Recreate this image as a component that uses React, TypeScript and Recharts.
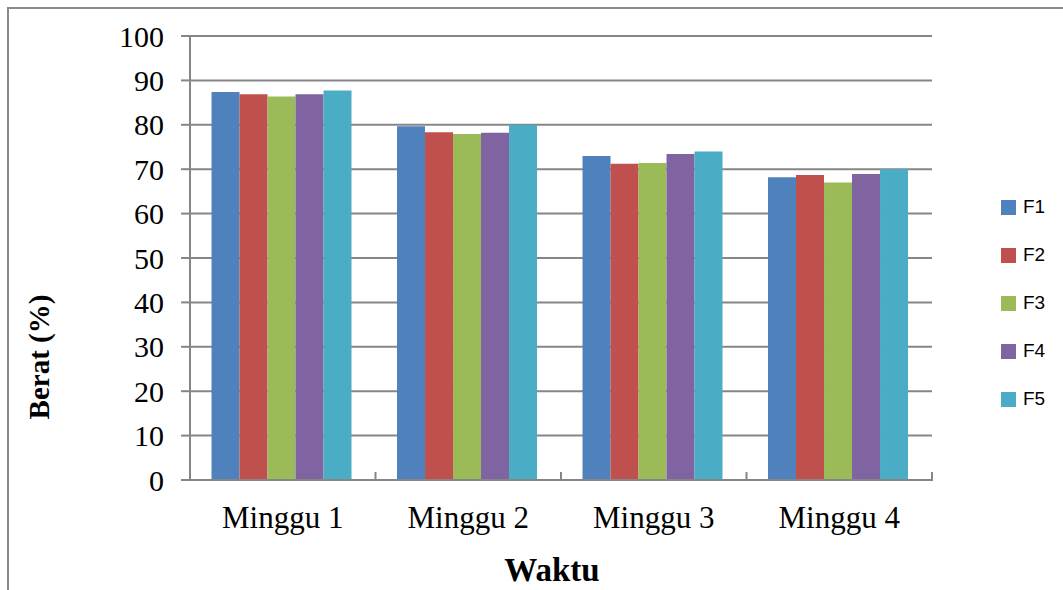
import React from 'react';
import { BarChart, Bar, XAxis, YAxis, CartesianGrid } from 'recharts';

const categories = ['Minggu 1', 'Minggu 2', 'Minggu 3', 'Minggu 4'];
const F1 = [87.4, 79.7, 73.0, 68.2];
const F2 = [86.9, 78.3, 71.2, 68.7];
const F3 = [86.4, 77.9, 71.4, 67.0];
const F4 = [86.9, 78.2, 73.4, 68.9];
const F5 = [87.7, 80.0, 74.0, 70.0];
const yTicks = [0, 10, 20, 30, 40, 50, 60, 70, 80, 90, 100];

const seriesNames = ['F1', 'F2', 'F3', 'F4', 'F5'];
const seriesValues = [F1, F2, F3, F4, F5];
const colors = ['#4F81BD', '#C0504D', '#9BBB59', '#8064A2', '#4BACC6'];

const data = categories.map((c, i) => {
  const row: any = { name: c };
  seriesNames.forEach((s, k) => {
    row[s] = seriesValues[k][i];
  });
  return row;
});

const W = 1063;
const H = 590;
const X_AXIS_H = 30;
const M = { top: 36, right: 131, bottom: 110 - X_AXIS_H, left: 0 };
const Y_AXIS_W = 190;
const plotW = W - M.left - M.right - Y_AXIS_W;
const halfBand = plotW / categories.length / 2;
const AXIS_COLOR = '#868686';
const SERIF = '"Liberation Serif", "Times New Roman", serif';

const XTick = (props: any) => {
  const { x, y, payload, index } = props;
  const axisY = y - 8;
  return (
    <g>
      <line x1={x - halfBand} x2={x - halfBand} y1={axisY - 8} y2={axisY + 1} stroke={AXIS_COLOR} strokeWidth={2} />
      {index === categories.length - 1 && (
        <line x1={x + halfBand} x2={x + halfBand} y1={axisY - 8} y2={axisY + 1} stroke={AXIS_COLOR} strokeWidth={2} />
      )}
      <text x={x} y={y + 40} textAnchor="middle" fontFamily={SERIF} fontSize={31} fill="#000">
        {payload.value}
      </text>
    </g>
  );
};

export default function App() {
  return (
    <div style={{ position: 'absolute', left: 0, top: 0, width: W, height: H, background: '#fff', overflow: 'hidden' }}>
      <div
        style={{
          position: 'absolute',
          left: 7,
          top: 7,
          width: W + 20,
          height: H + 20,
          border: '2px solid #8a8a8a',
        }}
      />
      <div style={{ position: 'absolute', left: 0, top: 0 }}>
        <BarChart width={W} height={H} data={data} margin={M} barCategoryGap="11.6%" barGap={0}>
          <CartesianGrid vertical={false} stroke={AXIS_COLOR} strokeWidth={2} />
          <XAxis
            dataKey="name"
            height={X_AXIS_H}
            axisLine={{ stroke: AXIS_COLOR, strokeWidth: 2 }}
            tickLine={false}
            tick={<XTick />}
            interval={0}
          />
          <YAxis
            width={Y_AXIS_W}
            domain={[0, 100]}
            ticks={yTicks}
            interval={0}
            axisLine={{ stroke: AXIS_COLOR, strokeWidth: 2 }}
            tickLine={{ stroke: AXIS_COLOR, strokeWidth: 2 }}
            tickSize={9}
            tickMargin={17}
            tick={{ fontFamily: SERIF, fontSize: 30, fill: '#000' }}
          />
          {seriesNames.map((s, k) => (
            <Bar key={s} dataKey={s} fill={colors[k]} isAnimationActive={false} />
          ))}
        </BarChart>
      </div>
      <div
        style={{
          position: 'absolute',
          left: 552,
          top: 570,
          transform: 'translate(-50%, -50%)',
          fontFamily: SERIF,
          fontWeight: 'bold',
          fontSize: 33,
          color: '#000',
          whiteSpace: 'nowrap',
        }}
      >
        Waktu
      </div>
      <div
        style={{
          position: 'absolute',
          left: 39,
          top: 357,
          transform: 'translate(-50%, -50%) rotate(-90deg)',
          fontFamily: SERIF,
          fontWeight: 'bold',
          fontSize: 29,
          color: '#000',
          whiteSpace: 'nowrap',
        }}
      >
        Berat (%)
      </div>
      {seriesNames.map((s, k) => (
        <div
          key={s}
          style={{
            position: 'absolute',
            left: 1001,
            top: 207 + k * 48 - 8,
            height: 16,
            display: 'flex',
            alignItems: 'center',
            fontFamily: '"Liberation Sans", Arial, sans-serif',
            fontSize: 19,
            color: '#000',
            whiteSpace: 'nowrap',
          }}
        >
          <span style={{ display: 'inline-block', width: 15, height: 15, background: colors[k], marginRight: 7 }} />
          {s}
        </div>
      ))}
    </div>
  );
}
